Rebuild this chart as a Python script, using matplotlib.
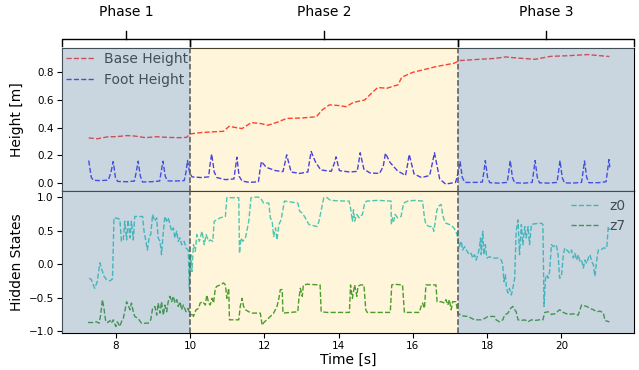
import matplotlib
matplotlib.use("Agg")
import matplotlib.pyplot as plt

# phase boundaries [s]
phase_edges = [10.0, 17.22]
phase_names = ["Phase 1", "Phase 2", "Phase 3"]

# base height [m]
base_t = [7.27, 7.50, 7.80, 8.00, 8.30, 8.50, 8.80, 9.10, 9.40, 9.70, 9.90, 10.00,
          10.30, 10.60, 10.90, 11.05, 11.25, 11.40, 11.65, 11.90, 12.10, 12.35, 12.60,
          13.00, 13.40, 13.55, 13.75, 14.00, 14.20, 14.40, 14.70, 14.85, 15.05, 15.30,
          15.60, 15.70, 16.00, 16.40, 16.60, 16.90, 17.10, 17.27, 17.80, 18.20, 18.50,
          18.80, 19.30, 19.70, 20.20, 20.70, 21.29]
base_h = [0.326, 0.320, 0.335, 0.335, 0.343, 0.340, 0.328, 0.335, 0.330, 0.328, 0.330, 0.355,
          0.365, 0.370, 0.374, 0.410, 0.400, 0.394, 0.437, 0.430, 0.418, 0.440, 0.467,
          0.470, 0.479, 0.527, 0.565, 0.560, 0.552, 0.583, 0.600, 0.640, 0.690, 0.685,
          0.710, 0.765, 0.800, 0.826, 0.840, 0.855, 0.865, 0.885, 0.894, 0.900, 0.911,
          0.903, 0.894, 0.915, 0.920, 0.928, 0.914]

# foot height [m]
foot_t = [7.27, 7.34, 7.40, 7.60, 7.80, 7.87, 7.93, 7.99, 8.05, 8.30, 8.50, 8.55, 8.60, 8.66,
          8.72, 8.95, 9.18, 9.22, 9.27, 9.33, 9.39, 9.60, 9.84, 9.89, 9.93, 9.99, 10.05,
          10.30, 10.50, 10.53, 10.58, 10.65, 10.72, 10.95, 11.18, 11.22, 11.26, 11.32, 11.40,
          11.60, 11.84, 11.88, 11.92, 12.05, 12.30, 12.50, 12.55, 12.60, 12.72, 12.95, 13.17,
          13.21, 13.26, 13.38, 13.52, 13.80, 13.88, 13.93, 14.02, 14.30, 14.50, 14.54, 14.58,
          14.68, 14.85, 15.10, 15.20, 15.26, 15.38, 15.58, 15.80, 15.86, 15.90, 16.03, 16.23,
          16.45, 16.52, 16.58, 16.72, 16.88, 17.15, 17.22, 17.27, 17.33, 17.40, 17.70, 17.87,
          17.91, 17.95, 18.01, 18.07, 18.30, 18.54, 18.58, 18.62, 18.68, 18.74, 19.00, 19.21,
          19.25, 19.29, 19.35, 19.41, 19.65, 19.88, 19.92, 19.96, 20.02, 20.08, 20.30, 20.54,
          20.58, 20.62, 20.68, 20.74, 21.00, 21.20, 21.24, 21.28, 21.30]
foot_h = [0.163, 0.040, 0.020, 0.018, 0.022, 0.080, 0.156, 0.040, 0.012, 0.010, 0.015, 0.080,
          0.158, 0.050, 0.008, 0.010, 0.015, 0.080, 0.158, 0.050, 0.016, 0.015, 0.018, 0.080,
          0.163, 0.075, 0.045, 0.040, 0.045, 0.120, 0.210, 0.080, 0.040, 0.025, 0.030, 0.110,
          0.187, 0.050, 0.015, 0.005, 0.010, 0.090, 0.156, 0.114, 0.090, 0.083, 0.140, 0.204,
          0.080, 0.070, 0.080, 0.150, 0.228, 0.150, 0.095, 0.085, 0.140, 0.190, 0.090, 0.080,
          0.085, 0.150, 0.219, 0.100, 0.073, 0.070, 0.120, 0.216, 0.150, 0.090, 0.055, 0.140,
          0.207, 0.066, 0.040, 0.055, 0.140, 0.219, 0.030, -0.007, 0.005, 0.080, 0.156, 0.040,
          0.005, 0.005, 0.008, 0.080, 0.163, 0.040, 0.003, 0.000, 0.005, 0.080, 0.163, 0.040,
          0.002, 0.000, 0.005, 0.080, 0.163, 0.040, 0.002, 0.000, 0.005, 0.080, 0.163, 0.040,
          0.002, 0.000, 0.005, 0.080, 0.160, 0.040, 0.003, 0.003, 0.010, 0.090, 0.170, 0.114]

# hidden state z0
z0_t = [7.28, 7.34, 7.43, 7.50, 7.57, 7.61, 7.68, 7.75, 7.84, 7.91, 7.95, 8.06, 8.11, 8.15,
        8.20, 8.24, 8.29, 8.33, 8.38, 8.42, 8.47, 8.51, 8.65, 8.72, 8.76, 8.81, 8.85, 8.90,
        8.94, 8.99, 9.05, 9.10, 9.14, 9.19, 9.23, 9.28, 9.32, 9.37, 9.41, 9.46, 9.50, 9.55,
        9.59, 9.64, 9.68, 9.73, 9.77, 9.84, 9.89, 9.95, 9.98, 10.02, 10.05, 10.09, 10.14,
        10.18, 10.25, 10.32, 10.38, 10.43, 10.50, 10.54, 10.61, 10.65, 10.72, 10.81, 10.95,
        10.99, 11.31, 11.33, 11.37, 11.42, 11.49, 11.58, 11.64, 11.80, 11.89, 11.98, 12.12,
        12.16, 12.21, 12.25, 12.30, 12.34, 12.39, 12.45, 12.54, 12.90, 12.95, 13.02, 13.08,
        13.20, 13.42, 13.47, 13.60, 13.69, 13.78, 14.14, 14.28, 14.32, 14.37, 14.40, 14.43,
        14.49, 14.55, 14.64, 14.70, 14.76, 15.05, 15.41, 15.42, 15.45, 15.48, 15.52, 15.59,
        15.68, 15.75, 15.86, 16.04, 16.26, 16.31, 16.35, 16.44, 16.53, 16.56, 16.59, 16.64,
        16.68, 16.76, 16.80, 16.85, 16.89, 16.98, 17.03, 17.10, 17.16, 17.21, 17.25, 17.30,
        17.34, 17.39, 17.46, 17.52, 17.57, 17.61, 17.66, 17.70, 17.75, 17.79, 17.82, 17.84,
        17.88, 17.91, 17.95, 17.99, 18.06, 18.15, 18.29, 18.38, 18.42, 18.45, 18.49, 18.52,
        18.56, 18.60, 18.65, 18.69, 18.74, 18.78, 18.83, 18.87, 18.92, 18.96, 19.01, 19.05,
        19.10, 19.14, 19.19, 19.26, 19.46, 19.50, 19.53, 19.57, 19.60, 19.64, 19.68, 19.73,
        19.78, 19.86, 19.91, 19.95, 20.00, 20.05, 20.09, 20.14, 20.18, 20.23, 20.27, 20.32,
        20.36, 20.41, 20.45, 20.50, 20.54, 20.59, 20.63, 20.68, 20.72, 20.77, 20.81, 20.86,
        20.90, 20.95, 20.99, 21.06, 21.13, 21.22, 21.26, 21.29]
z0_v = [-0.21, -0.23, -0.36, -0.26, 0.02, -0.06, -0.18, -0.23, -0.25, -0.22, 0.69, 0.68, 0.66,
        0.34, 0.36, 0.64, 0.36, 0.66, 0.39, 0.64, 0.36, 0.71, 0.71, 0.71, 0.49, 0.34, 0.21,
        0.41, 0.44, 0.74, 0.64, 0.69, 0.39, 0.34, 0.14, 0.49, 0.71, 0.64, 0.69, 0.59, 0.49,
        0.54, 0.39, 0.49, 0.34, 0.39, 0.29, 0.34, 0.24, 0.21, -0.36, 0.14, -0.11, 0.29, 0.19,
        0.44, 0.34, 0.49, 0.29, 0.44, 0.34, 0.36, 0.34, 0.64, 0.66, 0.69, 0.71, 0.99, 0.99,
        0.16, 0.39, 0.34, 0.39, 0.64, 0.99, 1.00, 0.99, 0.91, 0.91, 0.69, 0.64, 0.41, 0.54,
        0.36, 0.59, 0.66, 0.94, 0.91, 0.79, 0.76, 0.71, 0.59, 0.56, 0.64, 0.99, 0.99, 0.95,
        0.94, 0.94, 0.84, 0.64, 0.81, 0.64, 0.74, 0.69, 0.74, 0.91, 0.94, 0.95, 0.94, 0.59,
        0.69, 0.64, 0.74, 0.69, 0.71, 0.91, 0.94, 0.95, 0.94, 0.69, 0.59, 0.56, 0.56, 0.49,
        0.59, 0.79, 0.86, 0.89, 0.74, 0.64, 0.61, 0.59, 0.58, 0.54, 0.49, 0.39, 0.26, 0.34,
        0.21, 0.26, 0.19, 0.14, 0.16, 0.09, 0.14, 0.06, 0.14, 0.24, 0.39, 0.14, 0.49, 0.14,
        0.29, 0.09, 0.11, 0.09, 0.09, 0.06, -0.01, -0.26, -0.16, -0.36, -0.43, -0.36, -0.46,
        -0.36, -0.21, 0.49, 0.66, 0.14, 0.59, 0.29, 0.56, 0.39, 0.56, 0.29, 0.59, 0.60, 0.61,
        0.59, -0.63, -0.21, -0.16, -0.21, -0.11, 0.29, 0.26, 0.29, 0.14, -0.21, -0.18, 0.14,
        0.24, 0.21, 0.19, 0.16, 0.21, 0.09, 0.16, 0.06, 0.14, 0.04, 0.06, -0.06, 0.06, 0.01,
        0.09, 0.14, 0.04, -0.01, -0.18, 0.06, 0.21, 0.21, 0.24, 0.24, 0.56, 0.51]

# hidden state z7
z7_t = [7.25, 7.39, 7.48, 7.55, 7.59, 7.64, 7.68, 7.73, 7.79, 7.84, 7.88, 7.93, 8.00, 8.04,
        8.11, 8.15, 8.20, 8.24, 8.29, 8.33, 8.38, 8.42, 8.47, 8.51, 8.60, 8.69, 8.87, 8.94,
        8.99, 9.05, 9.10, 9.14, 9.19, 9.23, 9.28, 9.32, 9.37, 9.41, 9.46, 9.50, 9.55, 9.59,
        9.64, 9.68, 9.73, 9.77, 9.82, 9.89, 9.95, 10.00, 10.05, 10.09, 10.16, 10.23, 10.27,
        10.34, 10.41, 10.45, 10.50, 10.54, 10.59, 10.63, 10.68, 10.72, 10.81, 10.90, 10.95,
        10.99, 11.04, 11.06, 11.31, 11.35, 11.40, 11.44, 11.49, 11.58, 11.67, 11.89, 11.94,
        12.00, 12.07, 12.16, 12.25, 12.34, 12.39, 12.43, 12.48, 12.50, 12.90, 12.93, 12.97,
        13.02, 13.05, 13.15, 13.50, 13.53, 13.69, 14.29, 14.32, 14.37, 14.43, 14.49, 14.52,
        14.59, 14.68, 14.73, 14.77, 15.39, 15.43, 15.50, 15.72, 15.77, 16.17, 16.22, 16.26,
        16.31, 16.35, 16.62, 16.65, 16.76, 16.85, 16.89, 16.94, 16.98, 17.03, 17.07, 17.16,
        17.21, 17.30, 17.48, 17.66, 17.84, 17.93, 18.02, 18.20, 18.24, 18.33, 18.42, 18.47,
        18.56, 18.63, 18.69, 18.74, 18.78, 18.83, 18.92, 19.01, 19.10, 19.19, 19.28, 19.41,
        19.50, 19.55, 19.64, 19.73, 19.82, 19.95, 20.05, 20.18, 20.32, 20.45, 20.54, 20.59,
        20.68, 20.77, 20.86, 20.95, 21.04, 21.13, 21.17, 21.29]
z7_v = [-0.87, -0.87, -0.86, -0.88, -0.76, -0.53, -0.66, -0.86, -0.87, -0.84, -0.88, -0.83,
        -0.93, -0.86, -0.93, -0.86, -0.81, -0.71, -0.56, -0.61, -0.68, -0.58, -0.71, -0.78,
        -0.81, -0.88, -0.88, -0.83, -0.66, -0.63, -0.76, -0.58, -0.73, -0.56, -0.76, -0.61,
        -0.71, -0.56, -0.48, -0.56, -0.48, -0.58, -0.53, -0.63, -0.56, -0.68, -0.61, -0.71,
        -0.66, -0.78, -0.73, -0.78, -0.68, -0.66, -0.58, -0.56, -0.61, -0.46, -0.58, -0.61,
        -0.51, -0.58, -0.36, -0.33, -0.31, -0.28, -0.31, -0.51, -0.36, -0.83, -0.83, -0.63,
        -0.51, -0.63, -0.68, -0.71, -0.73, -0.73, -0.91, -0.86, -0.83, -0.78, -0.73, -0.63,
        -0.51, -0.38, -0.38, -0.73, -0.71, -0.51, -0.36, -0.48, -0.31, -0.30, -0.31, -0.71,
        -0.72, -0.72, -0.31, -0.51, -0.31, -0.48, -0.33, -0.31, -0.31, -0.68, -0.72, -0.72,
        -0.31, -0.30, -0.31, -0.72, -0.72, -0.63, -0.58, -0.66, -0.31, -0.31, -0.56, -0.56,
        -0.58, -0.53, -0.61, -0.53, -0.68, -0.56, -0.56, -0.73, -0.77, -0.78, -0.83, -0.83,
        -0.81, -0.78, -0.78, -0.83, -0.86, -0.83, -0.76, -0.73, -0.66, -0.63, -0.68, -0.71,
        -0.83, -0.84, -0.83, -0.86, -0.83, -0.84, -0.83, -0.83, -0.72, -0.71, -0.75, -0.74,
        -0.68, -0.72, -0.75, -0.74, -0.76, -0.61, -0.62, -0.63, -0.66, -0.68, -0.71, -0.70,
        -0.73, -0.84, -0.86]

fig, (ax1, ax2) = plt.subplots(2, 1, sharex=True, figsize=(6.39, 3.7), dpi=100)
fig.subplots_adjust(left=0.097, right=0.992, top=0.870, bottom=0.100, hspace=0)

ax1.plot(base_t, base_h, '--', color='red', lw=1.0, label='Base Height')
ax1.plot(foot_t, foot_h, '--', color='blue', lw=1.0, label='Foot Height')
ax1.set_ylabel('Height [m]', fontsize=10, labelpad=3)
ax1.legend(loc='upper left', frameon=False, fontsize=10, borderaxespad=0.0,
           borderpad=0.3, handletextpad=0.7, labelspacing=0.45)
ax1.tick_params(axis='x', bottom=False)

ax2.plot(z0_t, z0_v, '--', color='c', lw=1.0, label='z0')
ax2.plot(z7_t, z7_v, '--', color='green', lw=1.0, label='z7')
ax2.set_ylabel('Hidden States', fontsize=10, labelpad=3)
ax2.set_xlabel('Time [s]', fontsize=10, labelpad=1)
ax2.legend(loc='upper right', frameon=False, fontsize=10, borderaxespad=0.2,
           labelspacing=0.45)

for ax in (ax1, ax2):
    ax.tick_params(labelsize=7.5, pad=2.5)

xl = (6.55, 21.95)
bounds = [xl[0]] + phase_edges + [xl[1]]
span_cols = ['#8fa9bb', '#fcde8a', '#8fa9bb']
span_alpha = [0.47, 0.3, 0.47]
for ax in (ax1, ax2):
    for i in range(3):
        ax.axvspan(bounds[i], bounds[i + 1], color=span_cols[i], alpha=span_alpha[i],
                   lw=0, zorder=10)
    for e in phase_edges:
        ax.axvline(e, color='#555555', ls='--', lw=1.1, zorder=11)
    ax.set_xlim(xl)
fig.align_ylabels([ax1, ax2])

# phase brackets above the top panel
tr = ax1.get_xaxis_transform()
for i, name in enumerate(phase_names):
    a, b = bounds[i], bounds[i + 1]
    m = (a + b) / 2
    ax1.plot([a, a, b, b], [1.014, 1.063, 1.063, 1.014], color='black', lw=1.0,
             transform=tr, clip_on=False)
    ax1.plot([m, m], [1.063, 1.12], color='black', lw=1.0, transform=tr, clip_on=False)
    ax1.text(m, 1.255, name, transform=tr, ha='center', va='center', fontsize=10)

fig.savefig('out.png', dpi=100)
